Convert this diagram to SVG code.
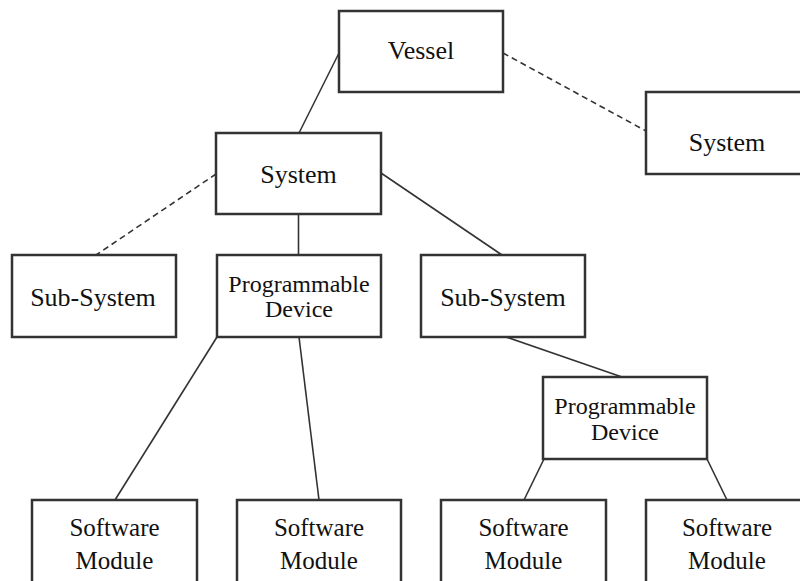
<svg xmlns="http://www.w3.org/2000/svg" width="800" height="581" viewBox="0 0 800 581">
  <style>
    .box { fill: #fff; stroke: #333; stroke-width: 2.5; }
    .link { fill: none; stroke: #333; stroke-width: 1.6; }
    .dash { fill: none; stroke: #333; stroke-width: 1.6; stroke-dasharray: 6 4; }
    .lbl { font-family: "Times New Roman", Times, "Liberation Serif", "DejaVu Serif", serif; fill: #111; text-anchor: middle; }
    .big { font-size: 26px; }
    .mid { font-size: 25px; }
    .small { font-size: 24px; }
  </style>
  <rect width="800" height="581" fill="#fff"/>

  <g id="connectors">
    <line class="link" x1="339" y1="53" x2="299" y2="133"/>
    <line class="dash" x1="503" y1="53" x2="646" y2="131"/>
    <line class="dash" x1="216" y1="174" x2="96" y2="255"/>
    <line class="link" x1="298.5" y1="214" x2="298.5" y2="255"/>
    <line class="link" x1="381" y1="173" x2="502" y2="255"/>
    <line class="link" x1="217" y1="337" x2="115" y2="500"/>
    <line class="link" x1="299" y1="337" x2="319" y2="500"/>
    <line class="link" x1="506" y1="337" x2="622" y2="377"/>
    <line class="link" x1="544" y1="459" x2="524" y2="500"/>
    <line class="link" x1="707" y1="459" x2="727" y2="500"/>
  </g>

  <g id="vessel">
    <rect class="box" x="339" y="11" width="164" height="81"/>
    <text class="lbl big" x="421" y="59">Vessel</text>
  </g>

  <g id="system-main">
    <rect class="box" x="216" y="133" width="165" height="81"/>
    <text class="lbl big" x="298.5" y="183">System</text>
  </g>

  <g id="system-other">
    <rect class="box" x="646" y="92" width="164" height="82"/>
    <text class="lbl big" x="727" y="151">System</text>
  </g>

  <g id="subsystem-left">
    <rect class="box" x="12" y="255" width="164" height="82"/>
    <text class="lbl big" x="93" y="306">Sub-System</text>
  </g>

  <g id="device-left">
    <rect class="box" x="217" y="255" width="164" height="82"/>
    <text class="lbl small" x="299" y="292">Programmable</text>
    <text class="lbl small" x="299" y="317">Device</text>
  </g>

  <g id="subsystem-right">
    <rect class="box" x="421" y="255" width="164" height="82"/>
    <text class="lbl big" x="503" y="306">Sub-System</text>
  </g>

  <g id="device-right">
    <rect class="box" x="543" y="377" width="164" height="82"/>
    <text class="lbl small" x="625" y="414">Programmable</text>
    <text class="lbl small" x="625" y="440">Device</text>
  </g>

  <g id="module-1">
    <rect class="box" x="32" y="500" width="165" height="85"/>
    <text class="lbl mid" x="114.5" y="536">Software</text>
    <text class="lbl mid" x="114.5" y="569">Module</text>
  </g>

  <g id="module-2">
    <rect class="box" x="237" y="500" width="164" height="85"/>
    <text class="lbl mid" x="319" y="536">Software</text>
    <text class="lbl mid" x="319" y="569">Module</text>
  </g>

  <g id="module-3">
    <rect class="box" x="441" y="500" width="165" height="85"/>
    <text class="lbl mid" x="523.5" y="536">Software</text>
    <text class="lbl mid" x="523.5" y="569">Module</text>
  </g>

  <g id="module-4">
    <rect class="box" x="646" y="500" width="164" height="85"/>
    <text class="lbl mid" x="727" y="536">Software</text>
    <text class="lbl mid" x="727" y="569">Module</text>
  </g>
</svg>
